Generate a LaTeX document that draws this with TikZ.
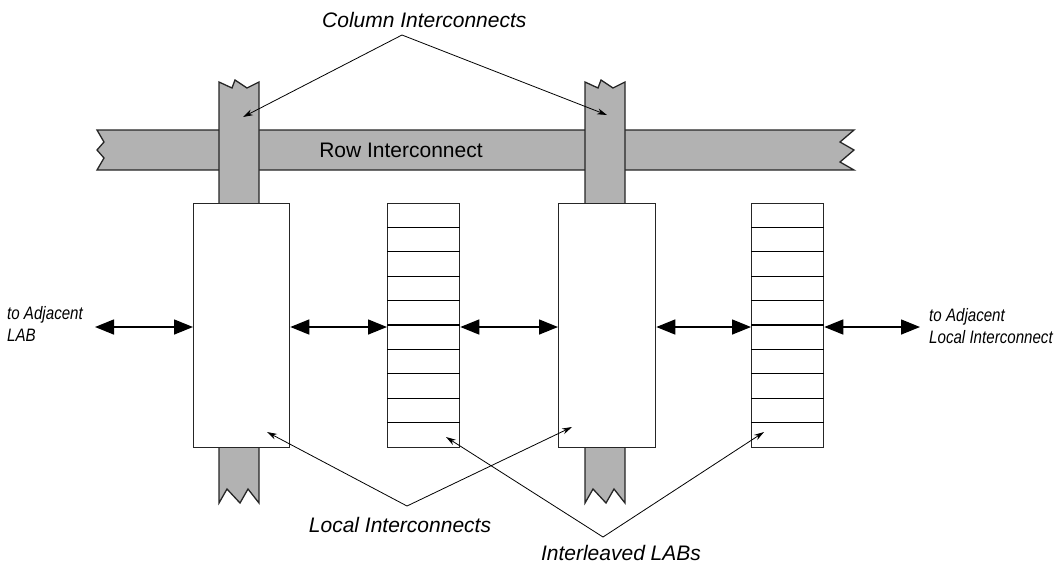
\documentclass[tikz,border=0pt]{standalone}
\usepackage{fontspec}
\setmainfont{Liberation Sans}
\newfontfamily\narrowfont[FakeStretch=0.84]{Liberation Sans}
\usetikzlibrary{arrows.meta, positioning}
\tikzstyle{lab} = [rectangle, draw=black!85, fill=white, minimum height=244pt, inner sep=0pt, anchor=north west, line width=1.3pt]
\tikzstyle{bus} = [draw=black!85, fill=black!30, line width=1.3pt, line join=miter]
\tikzstyle{biarrow} = [line width=1.5pt, {Triangle[length=19pt,width=15pt]}-{Triangle[length=19pt,width=15pt]}]
\tikzstyle{leader} = [line width=0.8pt, -{Stealth[length=10pt,width=6pt]}]
\tikzstyle{callout} = [font=\fontsize{21}{24}\selectfont\itshape, inner sep=0pt]
\tikzstyle{side} = [font=\fontsize{18}{22}\selectfont\narrowfont\itshape, align=left, anchor=west, inner sep=0pt]

\begin{document}
\begin{tikzpicture}[x=1pt, y=-1pt]
  \useasboundingbox (0,0) rectangle (1059,566);

  % row interconnect
  \draw[bus] (97,130) -- (854,130) -- (840,142) -- (854,150) -- (840,162) -- (854,170)
    -- (97,170) -- (104,158) -- (97,150) -- (104,142) -- cycle;
  \node[font=\fontsize{21}{24}\selectfont] (row) at (401,150) {Row Interconnect};

  % column interconnects
  \foreach \cx in {0,366} {
    \draw[bus, xshift=\cx pt] (219,204) -- (219,82) -- (232,88) -- (235,80) -- (247,88)
      -- (259,82) -- (259,204) -- cycle;
    \draw[bus, xshift=\cx pt] (219,446) -- (219,503) -- (227,489) -- (240,503) -- (248,489)
      -- (259,503) -- (259,446) -- cycle;
  }

  % LABs and local interconnects
  \node[lab, minimum width=96pt] (loc1) at (193,203) {};
  \node[lab, minimum width=72pt] (lab1) at (387,203) {};
  \node[lab, minimum width=97pt] (loc2) at (558,203) {};
  \node[lab, minimum width=72pt] (lab2) at (751,203) {};
  \foreach \i in {1,...,9} {
    \draw[line width=1.1pt] ([yshift=-\i*24.4pt]lab1.north west) -- ([yshift=-\i*24.4pt]lab1.north east);
    \draw[line width=1.1pt] ([yshift=-\i*24.4pt]lab2.north west) -- ([yshift=-\i*24.4pt]lab2.north east);
  }

  % side texts
  \node[side] (adjlab) at (7,324) {to Adjacent\\LAB};
  \node[side] (adjloc) at (929,326) {to Adjacent\\Local Interconnect};
  \coordinate (left-end) at (95,327);
  \coordinate (right-end) at (920,327);

  \draw[biarrow] (left-end) -- (left-end -| loc1.west);
  \draw[biarrow] (loc1.east |- left-end) -- (lab1.west |- left-end);
  \draw[biarrow] (lab1.east |- left-end) -- (loc2.west |- left-end);
  \draw[biarrow] (loc2.east |- left-end) -- (lab2.west |- left-end);
  \draw[biarrow] (lab2.east |- left-end) -- (right-end);

  % callouts
  \node[callout, anchor=west] (colint) at (322,20) {Column Interconnects};
  \node[callout] (locint) at (400,525) {Local Interconnects};
  \node[callout] (intlab) at (621,553) {Interleaved LABs};

  \coordinate (col-apex) at (402,35);
  \coordinate (col1-tip) at (243,117);
  \coordinate (col2-tip) at (607,115);
  \draw[leader] (col-apex) -- (col1-tip);
  \draw[leader] (col-apex) -- (col2-tip);

  \coordinate (loc-apex) at (407,506);
  \coordinate (loc1-tip) at (267,432);
  \coordinate (loc2-tip) at (572,427);
  \draw[leader] (loc-apex) -- (loc1-tip);
  \draw[leader] (loc-apex) -- (loc2-tip);

  \coordinate (lab-apex) at (603,537);
  \coordinate (lab1-tip) at (446,437);
  \coordinate (lab2-tip) at (764,432);
  \draw[leader] (lab-apex) -- (lab1-tip);
  \draw[leader] (lab-apex) -- (lab2-tip);
\end{tikzpicture}
\end{document}
